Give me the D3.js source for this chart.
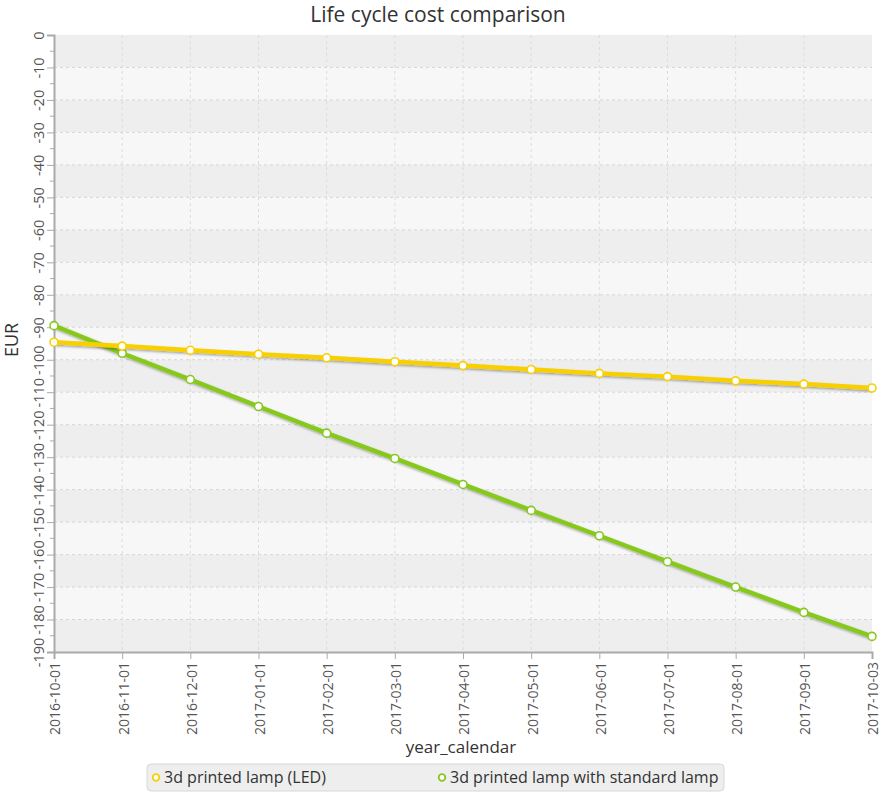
<!DOCTYPE html>
<html>
<head>
<meta charset="utf-8">
<script src="https://cdn.jsdelivr.net/npm/d3@7"></script>
<style>
  body { margin: 0; background: #fff; }
  text { font-family: "Open Sans", "Noto Sans", sans-serif; }
</style>
</head>
<body>
<div id="chart"></div>
<script>
// chart data
var dates = ["2016-10-01", "2016-11-01", "2016-12-01", "2017-01-01", "2017-02-01", "2017-03-01",
             "2017-04-01", "2017-05-01", "2017-06-01", "2017-07-01", "2017-08-01", "2017-09-01", "2017-10-03"];
var ledCost = [-94.6, -95.8, -97.1, -98.3, -99.4, -100.6, -101.8, -103.0, -104.2, -105.2, -106.5, -107.5, -108.7];
var standardCost = [-89.5, -98.0, -106.1, -114.4, -122.6, -130.4, -138.4, -146.4, -154.2, -162.2, -170.0, -177.8, -185.2];
var seriesNames = ["3d printed lamp (LED)", "3d printed lamp with standard lamp"];
var yTicks = d3.range(0, -191, -10);

var W = 882, H = 794;
var margin = {top: 35, right: 10, bottom: 142, left: 54};

var svg = d3.select("#chart").append("svg")
  .attr("width", W)
  .attr("height", H);

var x = d3.scalePoint()
  .domain(dates)
  .range([margin.left, W - margin.right]);

var y = d3.scaleLinear()
  .domain([0, -190])
  .range([margin.top, H - margin.bottom]);

// shadow for the lines
var defs = svg.append("defs");
var f = defs.append("filter").attr("id", "shadow").attr("x", "-5%").attr("y", "-5%").attr("width", "110%").attr("height", "120%");
f.append("feDropShadow").attr("dx", 1).attr("dy", 1.5).attr("stdDeviation", 1).attr("flood-color", "#000").attr("flood-opacity", 0.35);

// alternating bands
var bands = d3.range(0, -190, -10);
svg.append("g").selectAll("rect")
  .data(bands)
  .join("rect")
    .attr("x", margin.left)
    .attr("width", W - margin.right - margin.left)
    .attr("y", d => y(d))
    .attr("height", d => y(d - 10) - y(d))
    .attr("fill", (d, i) => i % 2 == 0 ? "#eeeeee" : "#f7f7f7");

// grid
svg.append("g").selectAll("line")
  .data(yTicks.slice(1, -1))
  .join("line")
    .attr("x1", margin.left).attr("x2", W - margin.right)
    .attr("y1", d => y(d)).attr("y2", d => y(d))
    .attr("stroke", "#d6d6d6")
    .attr("stroke-dasharray", "3,3");

svg.append("g").selectAll("line")
  .data(dates.slice(1, -1))
  .join("line")
    .attr("x1", d => x(d)).attr("x2", d => x(d))
    .attr("y1", margin.top).attr("y2", H - margin.bottom)
    .attr("stroke", "#dcdcdc")
    .attr("stroke-dasharray", "3,3");

// axes
var yAxis = svg.append("g")
  .attr("transform", `translate(${margin.left},0)`)
  .call(d3.axisLeft(y).tickValues(yTicks).tickSize(7).tickFormat(d => String(d)));
yAxis.selectAll(".tick text")
  .attr("transform", "rotate(-90)")
  .attr("x", 0).attr("y", -10)
  .attr("dy", "0")
  .style("text-anchor", "middle")
  .attr("font-size", 14.5)
  .attr("fill", "#555");

// minor ticks on y
svg.append("g").selectAll("line")
  .data(d3.range(-5, -190, -10))
  .join("line")
    .attr("x1", margin.left - 4).attr("x2", margin.left)
    .attr("y1", d => y(d)).attr("y2", d => y(d))
    .attr("stroke", "#aaa");

var xAxis = svg.append("g")
  .attr("transform", `translate(0,${H - margin.bottom})`)
  .call(d3.axisBottom(x).tickSize(7));
xAxis.selectAll(".tick text")
  .attr("transform", "rotate(-90)")
  .attr("x", -10).attr("y", 1)
  .attr("dy", "0.35em")
  .style("text-anchor", "end")
  .attr("font-size", 14)
  .attr("fill", "#555");

svg.selectAll(".domain").attr("stroke", "#aaa").attr("stroke-width", 2);
svg.selectAll(".tick line").attr("stroke", "#aaa");

// lines
var colors = ["#f8d000", "#86c91e"];
var allSeries = [ledCost, standardCost];
var line = d3.line().x((d, i) => x(dates[i])).y(d => y(d));

// draw standard lamp first then LED on top
[1, 0].forEach(function(s) {
  var g = svg.append("g");
  g.append("path")
    .datum(allSeries[s])
    .attr("d", line)
    .attr("fill", "none")
    .attr("stroke", colors[s])
    .attr("stroke-width", 4.5)
    .attr("filter", "url(#shadow)");
  g.selectAll("circle")
    .data(allSeries[s])
    .join("circle")
      .attr("cx", (d, i) => x(dates[i]))
      .attr("cy", d => y(d))
      .attr("r", 4)
      .attr("fill", "#fff")
      .attr("stroke", colors[s])
      .attr("stroke-width", 1.6);
});

// titles
svg.append("text")
  .attr("x", 438).attr("y", 22)
  .attr("text-anchor", "middle")
  .attr("font-size", 21)
  .attr("fill", "#333")
  .text("Life cycle cost comparison");

svg.append("text")
  .attr("transform", `translate(18,340) rotate(-90)`)
  .attr("text-anchor", "middle")
  .attr("font-size", 18)
  .attr("fill", "#333")
  .text("EUR");

svg.append("text")
  .attr("x", 461).attr("y", 753)
  .attr("text-anchor", "middle")
  .attr("font-size", 17)
  .attr("fill", "#333")
  .text("year_calendar");

// legend
var legend = svg.append("g");
legend.append("rect")
  .attr("x", 147).attr("y", 764)
  .attr("width", 577).attr("height", 27)
  .attr("rx", 4)
  .attr("fill", "#eeeeee")
  .attr("stroke", "#d8d8d8");

var legendX = [156, 442];
seriesNames.forEach(function(name, i) {
  legend.append("circle")
    .attr("cx", legendX[i]).attr("cy", 777.5)
    .attr("r", 3.3)
    .attr("fill", "#fff")
    .attr("stroke", colors[i])
    .attr("stroke-width", 1.8);
  legend.append("text")
    .attr("x", legendX[i] + 8).attr("y", 783)
    .attr("font-size", 16)
    .attr("fill", "#333")
    .text(name);
});
</script>
</body>
</html>
